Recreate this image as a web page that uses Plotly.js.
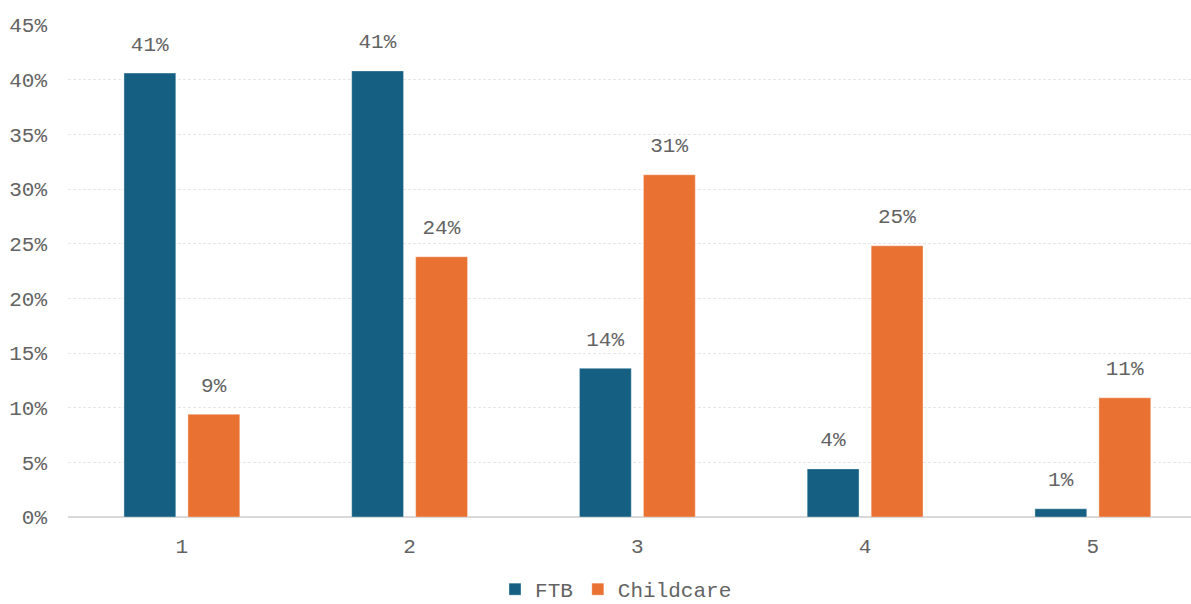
<!DOCTYPE html>
<html>
<head>
<meta charset="utf-8">
<script src="https://cdn.plot.ly/plotly-3.0.1.min.js"></script>
<style>html,body{margin:0;padding:0;background:#fff;}#chart{width:1191px;height:604px;}</style>
</head>
<body>
<div id="chart"></div>
<script>
const categories = ["1", "2", "3", "4", "5"];
const ftbValues = [40.6, 40.8, 13.6, 4.4, 0.75];
const childcareValues = [9.4, 23.8, 31.3, 24.8, 10.9];
const seriesNames = ["FTB", "Childcare"];
const yTickValues = [0, 5, 10, 15, 20, 25, 30, 35, 40, 45];

const FONT = "'Courier New', 'Liberation Mono', monospace";
const TXT = "#636363";
const labelText = vals => vals.map(v => "<span style='font-size:21px'>" + Math.round(v) + "%</span><br> ");

const traces = [
  {
    type: "bar", name: seriesNames[0], x: categories, y: ftbValues,
    marker: {color: "#156082", line: {color: "rgba(255,255,255,0.35)", width: 1}},
    text: labelText(ftbValues), textposition: "outside", cliponaxis: false,
    textfont: {family: FONT, size: 12, color: TXT}, hoverinfo: "none"
  },
  {
    type: "bar", name: seriesNames[1], x: categories, y: childcareValues,
    marker: {color: "#E97132", line: {color: "rgba(255,255,255,0.35)", width: 1}},
    text: labelText(childcareValues), textposition: "outside", cliponaxis: false,
    textfont: {family: FONT, size: 12, color: TXT}, hoverinfo: "none"
  }
];

const layout = {
  width: 1191, height: 604,
  margin: {l: 68, r: 0, t: 25, b: 87},
  paper_bgcolor: "#fff", plot_bgcolor: "#fff",
  font: {family: FONT, size: 21, color: TXT},
  barmode: "group", bargap: 0.438, bargroupgap: 0.19,
  xaxis: {
    type: "category", range: [-0.5, 4.431], showgrid: false, zeroline: false,
    showline: false, ticks: "", ticklabelstandoff: 14, automargin: false,
    tickfont: {family: FONT, size: 21, color: TXT}
  },
  yaxis: {
    range: [0, 45], tickvals: yTickValues, ticktext: yTickValues.map(v => v + "%"),
    showgrid: true, gridcolor: "#e6e6e6", griddash: "3px,2px", gridwidth: 1,
    zeroline: true, zerolinecolor: "#d9d9d9", zerolinewidth: 2, showline: false,
    ticks: "", ticklabelstandoff: 20, automargin: false,
    tickfont: {family: FONT, size: 21, color: TXT}
  },
  showlegend: true,
  legend: {
    orientation: "h", x: 0.488, xanchor: "center", xref: "paper",
    yref: "container", y: 0.024, yanchor: "middle",
    font: {family: FONT, size: 21, color: TXT}, itemwidth: 30, tracegroupgap: 0
  }
};

Plotly.newPlot("chart", traces, layout, {displayModeBar: false, staticPlot: true});
</script>
</body>
</html>
